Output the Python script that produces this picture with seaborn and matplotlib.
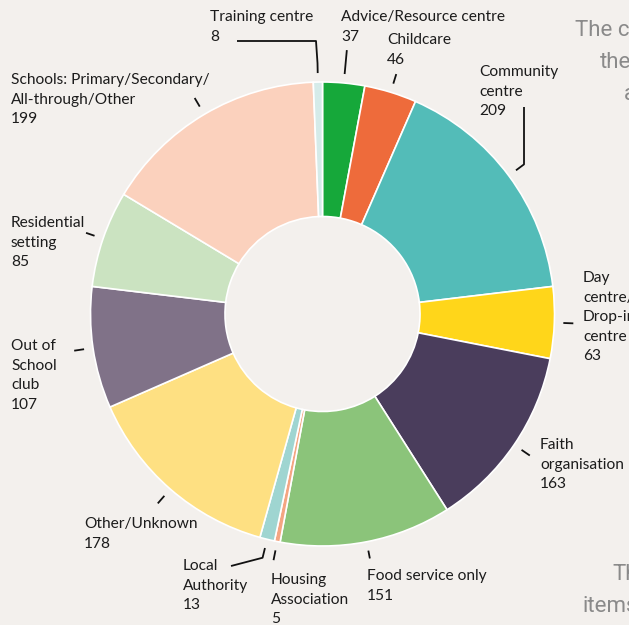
import numpy as np
import matplotlib.pyplot as plt
import seaborn as sns

categories = ["Advice/Resource centre", "Childcare", "Community centre",
              "Day centre/Drop-in centre", "Faith organisation", "Food service only",
              "Housing Association", "Local Authority", "Other/Unknown",
              "Out of School club", "Residential setting",
              "Schools: Primary/Secondary/All-through/Other", "Training centre"]
counts = [37, 46, 209, 63, 163, 151, 5, 13, 178, 107, 85, 199, 8]
colours = ["#16a83a", "#ee6b3b", "#53bcb8", "#ffd61a", "#4a3d5c", "#8bc47a",
           "#f4a582", "#9fd5d1", "#fee082", "#807288", "#cbe3c1", "#fbd1bd", "#d5ebe9"]
label_lines = [["Advice/Resource centre"], ["Childcare"], ["Community", "centre"],
               ["Day", "centre/", "Drop-in", "centre"], ["Faith", "organisation"],
               ["Food service only"], ["Housing", "Association"], ["Local", "Authority"],
               ["Other/Unknown"], ["Out of", "School", "club"], ["Residential", "setting"],
               ["Schools: Primary/Secondary/", "All-through/Other"], ["Training centre"]]

# layout (pixels)
W, H = 629, 625
CX, CY, R, R_IN = 322.5, 314, 232, 97.5
text_pos = [(341, 17), (387, 40), (479, 72), (583, 278), (540, 445), (367, 576),
            (271, 580), (183, 566), (84, 524), (11, 346), (11, 223), (11, 80), (210, 17)]
tick_out = [265, 251, 251, 251, 251, 249, 251, 251, 251, 251, 250, 251, 251]
elbows = {2: [(524, 107)], 7: [(231, 566)], 12: [(316, 41), (237, 41)]}

sns.set_theme(style="white")
plt.rcParams["font.family"] = ["Lato", "DejaVu Sans"]
bg = "#f3f0ed"

fig = plt.figure(figsize=(W / 100, H / 100), dpi=100, facecolor=bg)
ax = fig.add_axes([0, 0, 1, 1])
ax.set_facecolor(bg)

ax.pie(counts, colors=colours, startangle=-90, counterclock=True,
       center=(CX, CY), radius=R,
       wedgeprops=dict(width=R - R_IN, edgecolor="white", linewidth=1.2))
ax.set_xlim(0, W)
ax.set_ylim(H, 0)
ax.set_aspect("auto")
ax.axis("off")

total = sum(counts)
cum = np.cumsum(counts)
mids = (cum - np.array(counts) / 2) / total * 2 * np.pi

def pt(phi, r):
    return CX + r * np.sin(phi), CY - r * np.cos(phi)

line_h = 19.6
for i, (lines, v) in enumerate(zip(label_lines, counts)):
    x0, y0 = text_pos[i]
    for j, s in enumerate(lines + [str(v)]):
        ax.text(x0, y0 + j * line_h, s, ha="left", va="center",
                fontsize=11.2, color="#1c1c1c")
    pts = [pt(mids[i], 241), pt(mids[i], tick_out[i])] + elbows.get(i, [])
    xs, ys = zip(*pts)
    ax.plot(xs, ys, color="#111111", lw=1.3, solid_capstyle="butt")

grey = dict(color="#8a8a8a", fontsize=16, family=["Roboto", "DejaVu Sans"], va="center")
ax.text(575, 30, "The c", **grey)
ax.text(600, 62, "the", **grey)
ax.text(624, 95, "a", **grey)
ax.text(612, 575, "Th", **grey)
ax.text(582, 607, "items", **grey)

fig.savefig("out.png", dpi=100, facecolor=bg)
